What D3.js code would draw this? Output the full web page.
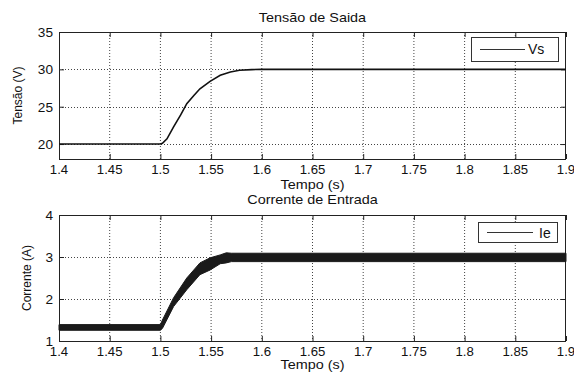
<!DOCTYPE html>
<html><head><meta charset="utf-8">
<script src="https://cdn.jsdelivr.net/npm/d3@7"></script>
<style>body{margin:0;background:#fff}svg{display:block}text{font-family:"Liberation Sans",Arial,sans-serif;fill:#111}</style>
</head><body><svg id="c" width="574" height="372"></svg>
<script>
// ---- data ----
const xTicks = [1.4,1.45,1.5,1.55,1.6,1.65,1.7,1.75,1.8,1.85,1.9];
const xTickLabels = ["1.4","1.45","1.5","1.55","1.6","1.65","1.7","1.75","1.8","1.85","1.9"];
const vsTicks = [20,25,30,35];
const ieTicks = [1,2,3,4];
const timeVs = [1.4,1.5,1.502,1.5065,1.513,1.52,1.526,1.533,1.539,1.549,1.559,1.569,1.578,1.59,1.6,1.9];
const vsValues = [20,20,20.1,20.7,22.3,23.9,25.4,26.5,27.4,28.4,29.2,29.65,29.87,29.97,30,30];
const timeIe = [1.4,1.5,1.502,1.513,1.526,1.539,1.549,1.559,1.565,1.57,1.9];
const ieUpper = [1.39,1.39,1.5,2.03,2.5,2.86,2.98,3.05,3.1,3.09,3.09];
const ieLower = [1.255,1.255,1.3,1.82,2.22,2.58,2.69,2.84,2.86,2.89,2.89];

const svg = d3.select("#c");
function stext(g, x, y, str, size, sx, anchor){
  return g.append("text").attr("transform",`translate(${x},${y}) scale(${sx},1)`)
    .attr("font-size",size).attr("text-anchor",anchor||"middle").text(str);
}

function panel(cfg){
  const {top,bottom,left,right,yDomain,yTicks,title,ylabel,legend,legendBox,titleY,xlabelY,ylabelX} = cfg;
  const x = d3.scaleLinear().domain([1.4,1.9]).range([left,right]);
  const y = d3.scaleLinear().domain(yDomain).range([bottom,top]);
  const g = svg.append("g");
  // grid
  g.append("g").selectAll("line").data(xTicks.slice(1,-1)).join("line")
    .attr("x1",d=>x(d)).attr("x2",d=>x(d)).attr("y1",top).attr("y2",bottom)
    .attr("stroke","#444").attr("stroke-width",1).attr("stroke-dasharray","1,2");
  g.append("g").selectAll("line").data(yTicks.filter(d=>d>yDomain[0]&&d<yDomain[1])).join("line")
    .attr("x1",left).attr("x2",right).attr("y1",d=>Math.round(y(d))+0.5).attr("y2",d=>Math.round(y(d))+0.5)
    .attr("stroke","#444").attr("stroke-width",1).attr("stroke-dasharray","1,2");
  // axes with inward ticks
  const ax = d3.axisBottom(x).tickValues(xTicks).tickSize(-5).tickFormat((d,i)=>"");
  g.append("g").attr("transform",`translate(0,${bottom})`).call(ax).call(s=>{s.select(".domain").remove();});
  g.append("g").attr("transform",`translate(0,${top})`).call(d3.axisTop(x).tickValues(xTicks).tickSize(-5).tickFormat(()=>"")).call(s=>s.select(".domain").remove());
  g.append("g").attr("transform",`translate(${left},0)`).call(d3.axisLeft(y).tickValues(yTicks).tickSize(-5).tickFormat(()=>"")).call(s=>s.select(".domain").remove());
  g.append("g").attr("transform",`translate(${right},0)`).call(d3.axisRight(y).tickValues(yTicks).tickSize(-5).tickFormat(()=>"")).call(s=>s.select(".domain").remove());
  g.selectAll(".tick line").attr("stroke","#222");
  // tick labels
  xTicks.forEach((t,i)=>stext(g,x(t),bottom+15,xTickLabels[i],12,1.1,"middle"));
  yTicks.forEach(t=>stext(g,left-6,y(t)+5,String(t),13,1.05,"end"));
  // frame
  g.append("rect").attr("x",left+0.5).attr("y",top+0.5).attr("width",right-left-1).attr("height",bottom-top)
    .attr("fill","none").attr("stroke","#222").attr("stroke-width",1);
  // titles
  stext(g,(left+right)/2,titleY,title,12,1.2,"middle");
  stext(g,(left+right)/2,xlabelY,"Tempo (s)",12,1.2,"middle");
  g.append("text").attr("transform",`translate(${ylabelX},${(top+bottom)/2}) rotate(-90)`)
    .attr("font-size",12).attr("text-anchor","middle").text(ylabel);
  // legend
  const [lx0,ly0,lx1,ly1] = legendBox;
  g.append("rect").attr("x",lx0+0.5).attr("y",ly0+0.5).attr("width",lx1-lx0).attr("height",ly1-ly0)
    .attr("fill","#fff").attr("stroke","#333");
  return {g,x,y};
}

// top panel
const p1 = panel({top:32,bottom:159,left:59,right:566,yDomain:[18,35],yTicks:vsTicks,
  title:"Tensão de Saida",ylabel:"Tensão (V)",titleY:22,xlabelY:189,ylabelX:22,legendBox:[471,37,558,61]});
p1.g.insert("path","rect:last-of-type").datum(timeVs.map((t,i)=>[t,vsValues[i]]))
  .attr("d",d3.line().x(d=>p1.x(d[0])).y(d=>p1.y(d[1])))
  .attr("fill","none").attr("stroke","#111").attr("stroke-width",1.6);
// redraw legend on top
p1.g.append("rect").attr("x",471.5).attr("y",37.5).attr("width",87).attr("height",24).attr("fill","#fff").attr("stroke","#333");
p1.g.append("line").attr("x1",480).attr("x2",525).attr("y1",49.5).attr("y2",49.5).attr("stroke","#333").attr("stroke-width",1.2);
p1.g.append("text").attr("x",528).attr("y",54).attr("font-size",14).text("Vs");

// bottom panel
const p2 = panel({top:215,bottom:341,left:59,right:566,yDomain:[1,4],yTicks:ieTicks,
  title:"Corrente de Entrada",ylabel:"Corrente (A)",titleY:204,xlabelY:369,ylabelX:31,legendBox:[478,222,557,242]});
p2.g.append("path").datum(timeIe.map((t,i)=>[t,ieLower[i],ieUpper[i]]))
  .attr("d",d3.area().x(d=>p2.x(d[0])).y0(d=>p2.y(d[1])).y1(d=>p2.y(d[2])))
  .attr("fill","#1a1a1a").attr("stroke","#1a1a1a").attr("stroke-width",1);
p2.g.append("rect").attr("x",478.5).attr("y",222.5).attr("width",79).attr("height",20).attr("fill","#fff").attr("stroke","#333");
p2.g.append("line").attr("x1",487).attr("x2",533).attr("y1",232.5).attr("y2",232.5).attr("stroke","#333").attr("stroke-width",1.2);
p2.g.append("text").attr("x",539).attr("y",237.5).attr("font-size",14).text("Ie");
</script></body></html>
